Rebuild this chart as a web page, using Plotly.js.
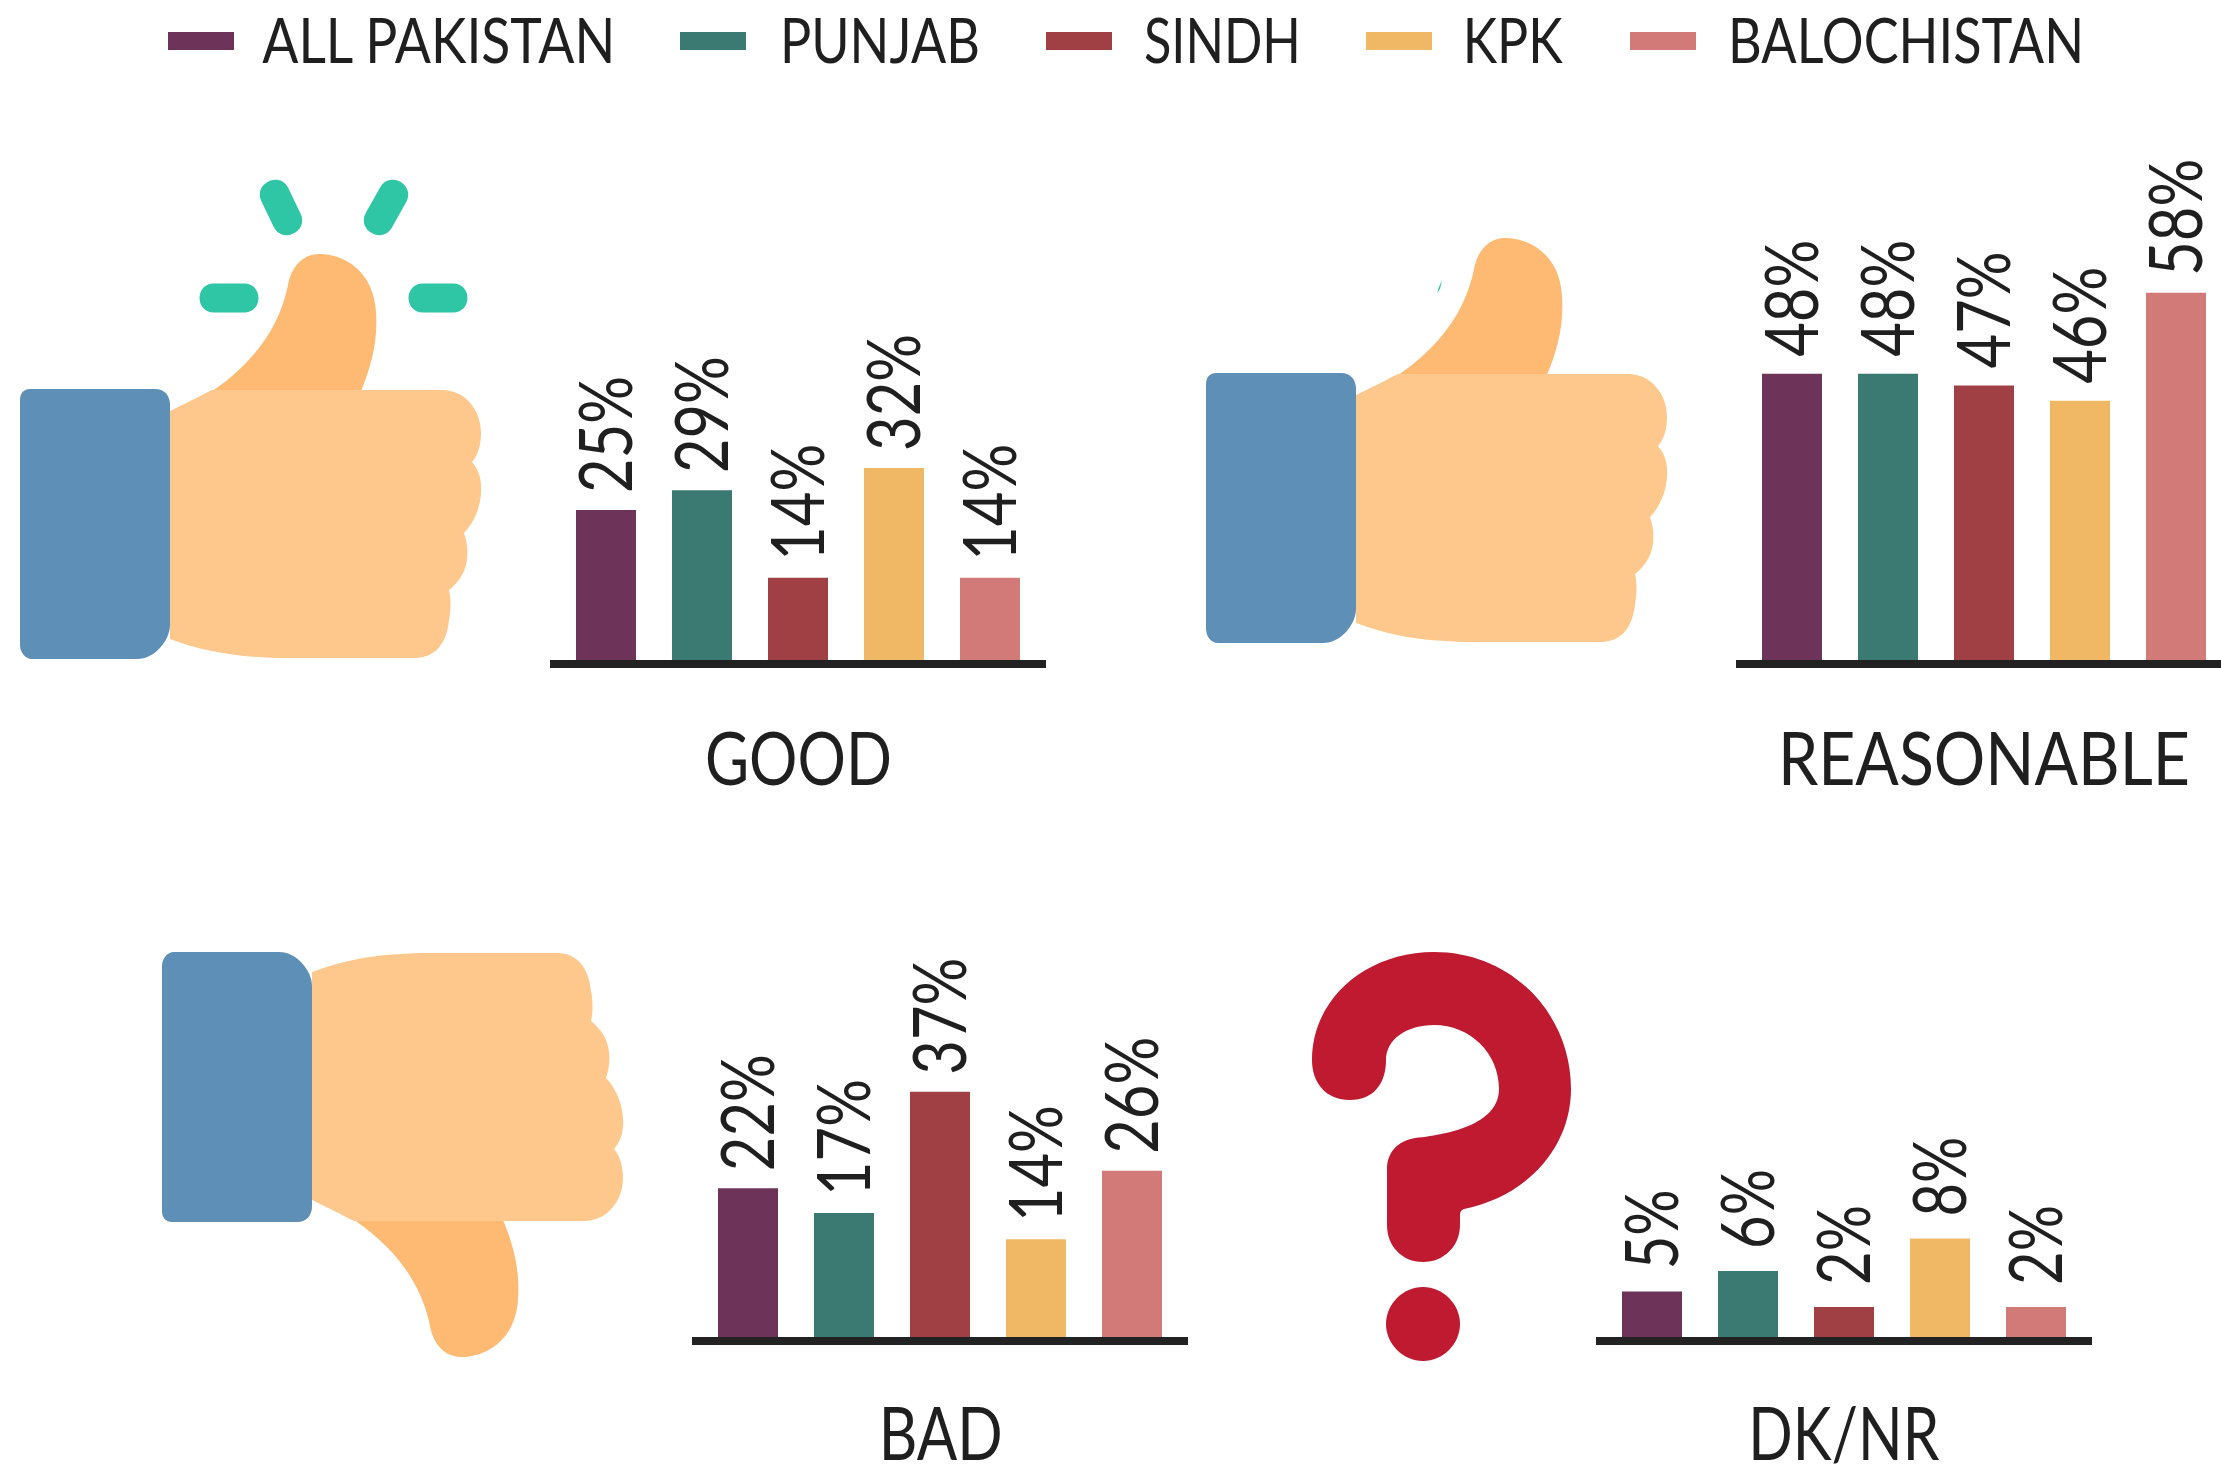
<!DOCTYPE html>
<html>
<head>
<meta charset="utf-8">
<script src="https://cdn.plot.ly/plotly-3.0.1.min.js"></script>
<style>html,body{margin:0;padding:0;background:#fff}#chart{width:2221px;height:1471px}</style>
</head>
<body>
<div id="chart"></div>
<script>
// Regions and colours
const regions = ['ALL PAKISTAN', 'PUNJAB', 'SINDH', 'KPK', 'BALOCHISTAN'];
const regionColors = ['#6e3358', '#3b7a72', '#a04045', '#f0b865', '#d27a78'];

// Printed labels
const goodLabels = ['25%', '29%', '14%', '32%', '14%'];
const reasonableLabels = ['48%', '48%', '47%', '46%', '58%'];
const badLabels = ['22%', '17%', '37%', '14%', '26%'];
const dkLabels = ['5%', '6%', '2%', '8%', '2%'];

// Bar heights as drawn in the picture (the source does not draw them strictly to the printed numbers)
const goodValues = [25, 28.3, 13.7, 32, 13.7];
const reasonableValues = [47.7, 47.7, 45.75, 43.2, 61.2];
const badValues = [22.2, 18.5, 36.6, 14.6, 24.8];
const dkValues = [3.8, 5.5, 2.5, 8.2, 2.5];

const W = 2221, H = 1471;
const fx = x => x / W, fy = y => 1 - y / H;
const FONT = 'Lato, "Open Sans", sans-serif';
const WEIGHT = 400;
const INK = '#1f1f1f';

// Panel layout
const panels = [
  {title: 'GOOD',        width: 187, values: goodValues,       labels: goodLabels,       left: 550,  right: 1046, first: 606,  base: 660,  scale: 6,   titleY: 756},
  {title: 'REASONABLE',  width: 412, values: reasonableValues, labels: reasonableLabels, left: 1736, right: 2221, first: 1792, base: 660,  scale: 6,   titleY: 756},
  {title: 'BAD',         width: 124, values: badValues,        labels: badLabels,        left: 692,  right: 1188, first: 748,  base: 1337, scale: 6.7, titleY: 1431},
  {title: 'DK/NR',       width: 191, values: dkValues,         labels: dkLabels,         left: 1596, right: 2092, first: 1652, base: 1337, scale: 12,  titleY: 1431}
];
const STEP = 96, PANEL_H = 560;
const LABEL_3CHAR_LEN = 117, LABEL_2CHAR_LEN = 80;

// Convert an absolute pixel-space SVG path into paper coordinates
function P(d, map) {
  map = map || ((x, y) => [x, y]);
  let out = '', pair = [], re = /([MLCZ])|(-?\d+(?:\.\d+)?)/g, m;
  while ((m = re.exec(d))) {
    if (m[1]) out += m[1] === 'Z' ? 'Z' : ' ' + m[1] + ' ';
    else {
      pair.push(+m[2]);
      if (pair.length === 2) {
        const [a, b] = map(pair[0], pair[1]);
        out += fx(a).toFixed(5) + ',' + fy(b).toFixed(5) + ' ';
        pair = [];
      }
    }
  }
  return out;
}
function fill(path, color) {
  return {type: 'path', xref: 'paper', yref: 'paper', path, fillcolor: color, line: {width: 0}, layer: 'below'};
}
function stadium(x1, y1, x2, y2, r) {
  const L = Math.hypot(x2 - x1, y2 - y1), ux = (x2 - x1) / L, uy = (y2 - y1) / L, nx = -uy * r, ny = ux * r, k = 1.33 * r;
  const f = n => n.toFixed(1);
  return `M${f(x1 + nx)} ${f(y1 + ny)} L${f(x2 + nx)} ${f(y2 + ny)} ` +
    `C${f(x2 + nx + ux * k)} ${f(y2 + ny + uy * k)} ${f(x2 - nx + ux * k)} ${f(y2 - ny + uy * k)} ${f(x2 - nx)} ${f(y2 - ny)} ` +
    `L${f(x1 - nx)} ${f(y1 - ny)} ` +
    `C${f(x1 - nx - ux * k)} ${f(y1 - ny - uy * k)} ${f(x1 + nx - ux * k)} ${f(y1 + ny - uy * k)} ${f(x1 + nx)} ${f(y1 + ny)} Z`;
}

// Icon outlines
const CUFF = 'M30 389 L155 389 C165 389 170 396 170 405 L170 625 C170 640 155 659 137 659 L32 659 C25 659 20 652 20 645 L20 400 C20 393 24 389 30 389 Z';
const PALM = 'M170 411 C185 404 200 396 212 390 L442 390 C465 390 481 410 481 433 C481 445 478 455 472 462 C479 470 482 480 481 493 C480 510 472 525 464 533 C467 542 468 550 467 559 C466 572 458 583 449 590 C451 598 451 610 449 620 C447 642 436 658 415 658 L290 658 C240 658 205 652 170 639 Z';
const THUMB = 'M205 396 C245 370 278 335 288 285 C291 268 302 254 319 254 C345 254 374 272 376 312 C378 340 372 365 361 391 Z';
const QUESTION = 'M1350 1100 C1326 1100 1312 1083 1312 1060 C1312 999 1366 952 1434 952 C1512 952 1571 1014 1571 1089 C1571 1149 1525 1197 1464 1209 C1461 1210 1460 1212 1460 1215 L1460 1225 C1460 1246 1444 1262 1423 1262 C1402 1262 1387 1246 1387 1225 L1387 1169 C1387 1152 1398 1141 1415 1138 C1455 1134 1499 1122 1499 1089 C1499 1053 1470 1025 1434 1025 C1407 1025 1386 1039 1386 1060 C1386 1083 1374 1100 1350 1100 Z';
const DOT = 'M1423 1287 C1443 1287 1460 1304 1460 1324 C1460 1344 1443 1361 1423 1361 C1403 1361 1386 1344 1386 1324 C1386 1304 1403 1287 1423 1287 Z';
const CUFF_C = '#5e8fb6', PALM_C = '#fec88c', THUMB_C = '#feba72', SPARK_C = '#2fc6a6', RED_C = '#bf1a2f';

const shapes = [];
function hand(map) {
  shapes.push(fill(P(THUMB, map), THUMB_C));
  shapes.push(fill(P(PALM, map), PALM_C));
  shapes.push(fill(P(CUFF, map), CUFF_C));
}
hand();
hand((x, y) => [x + 1186, y - 16]);
hand((x, y) => [x + 142, 1611 - y]);
[[275, 195, 287, 220, 15], [393, 195, 379, 220, 15], [214, 298, 244, 298, 14.5], [423, 298, 453, 298, 14.5]]
  .forEach(s => shapes.push(fill(P(stadium(...s)), SPARK_C)));
shapes.push(fill(P('M1442 280 L1440 289 L1437 293 L1439 287 Z'), SPARK_C));
shapes.push(fill(P(QUESTION), RED_C));
shapes.push(fill(P(DOT), RED_C));

// Legend, drawn as swatches and text at the reference's positions
const swatchX = [168, 680, 1046, 1366, 1630];
const legendTextX = [262, 780, 1144, 1463, 1728];
const legendTextW = [353, 200, 157, 100, 356];
const annotations = [];
const annotationWidths = [];
regions.forEach((r, i) => {
  shapes.push({type: 'rect', xref: 'paper', yref: 'paper', x0: fx(swatchX[i]), x1: fx(swatchX[i] + 66),
    y0: fy(50), y1: fy(32), fillcolor: regionColors[i], line: {width: 0}});
  annotations.push({xref: 'paper', yref: 'paper', x: fx(legendTextX[i] + legendTextW[i] / 2), y: fy(39), xanchor: 'center', yanchor: 'middle',
    text: r, showarrow: false, font: {family: FONT, size: 62, color: INK, weight: WEIGHT}});
  annotationWidths.push(legendTextW[i]);
});

const data = [], layout = {
  width: W, height: H, margin: {l: 0, r: 0, t: 0, b: 0, pad: 0},
  paper_bgcolor: '#fff', plot_bgcolor: 'rgba(0,0,0,0)', showlegend: false,
  bargap: 0.375, font: {family: FONT, color: INK}, shapes, annotations
};
panels.forEach((p, i) => {
  const n = i === 0 ? '' : String(i + 1);
  data.push({
    type: 'bar', x: regions, y: p.values, text: p.labels, xaxis: 'x' + n, yaxis: 'y' + n,
    marker: {color: regionColors, line: {width: 0}},
    textposition: 'outside', textangle: -90, cliponaxis: false, constraintext: 'none',
    textfont: {family: FONT, size: 74, color: INK, weight: WEIGHT}, hoverinfo: 'x+text'
  });
  layout['xaxis' + n] = {
    domain: [fx(p.left), fx(p.right)], anchor: 'y' + n, type: 'category', categoryorder: 'array', categoryarray: regions,
    range: [(p.left - p.first) / STEP, (p.right - p.first) / STEP],
    showline: true, linecolor: '#222222', linewidth: 8, showgrid: false, zeroline: false, ticks: '', showticklabels: false, fixedrange: true
  };
  layout['yaxis' + n] = {
    domain: [fy(p.base), fy(p.base - PANEL_H)], anchor: 'x' + n, range: [0, PANEL_H / p.scale],
    visible: false, showgrid: false, zeroline: false, fixedrange: true
  };
  annotations.push({xref: 'paper', yref: 'paper', x: fx(p.first + 2 * STEP), y: fy(p.titleY), xanchor: 'center', yanchor: 'middle',
    text: p.title, showarrow: false, font: {family: FONT, size: 74, color: INK, weight: WEIGHT}});
  annotationWidths.push(p.width);
});

// The source lettering is a condensed face; narrow the real text to the reference's measured widths.
function squeeze(el, len) {
  el.setAttribute('textLength', len);
  el.setAttribute('lengthAdjust', 'spacingAndGlyphs');
}
Plotly.newPlot('chart', data, layout, {displayModeBar: false, staticPlot: true}).then(gd => {
  gd.querySelectorAll('.annotation-text').forEach((el, i) => squeeze(el, annotationWidths[i]));
  gd.querySelectorAll('text.bartext').forEach(el => {
    const short = el.textContent.length === 2;
    squeeze(el, short ? LABEL_2CHAR_LEN : LABEL_3CHAR_LEN);
    // nudge along the rotated baseline (dx = up on screen, dy = sideways on screen)
    el.setAttribute('dx', short ? 8 : 0);
    el.setAttribute('dy', -3);
  });
});
</script>
</body>
</html>
